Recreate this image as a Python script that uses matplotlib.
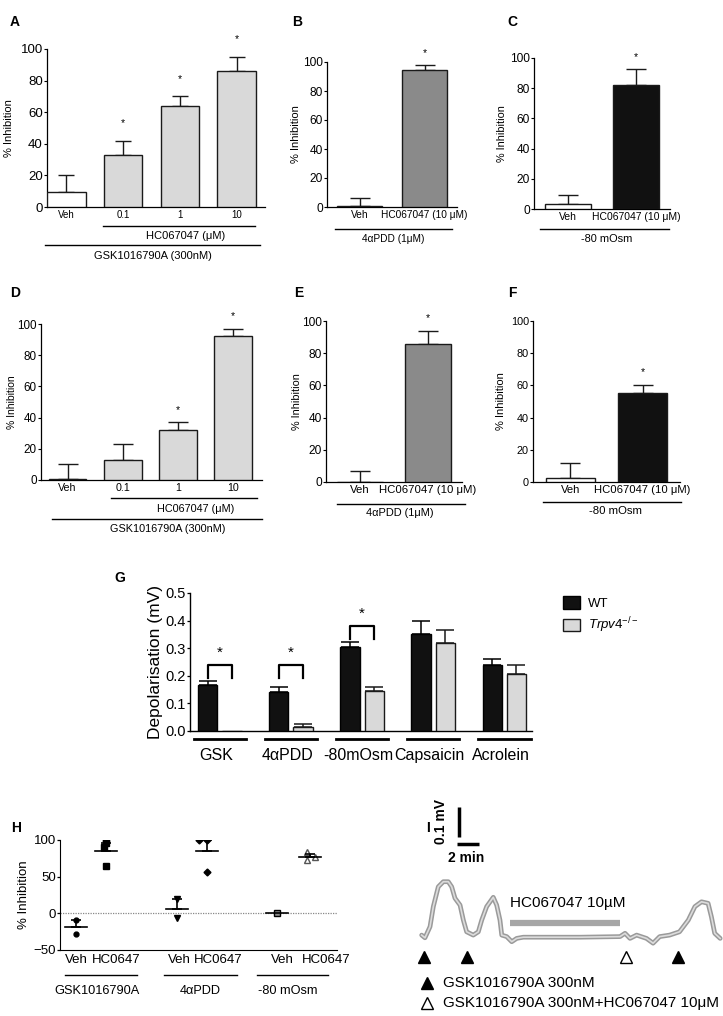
import matplotlib.pyplot as plt
from matplotlib.patches import Patch
import numpy as np

plt.rcParams['font.family'] = ['Liberation Sans', 'DejaVu Sans']
plt.rcParams['mathtext.fontset'] = 'custom'
plt.rcParams['mathtext.rm'] = 'Liberation Sans'
plt.rcParams['mathtext.it'] = 'Liberation Sans:italic'

W, H = 723, 1016

# ---------------- data ----------------
dose_labels = ['Veh', '0.1', '1', '10']
a_vals = [9.5, 33, 64, 86]
a_err = [10.5, 9, 6, 9]
a_star = [False, True, True, True]
d_vals = [0.5, 13, 32, 92]
d_err = [9.5, 10, 5, 5]
d_star = [False, False, True, True]

pair_labels = ['Veh', 'HC067047 (10 \u03bcM)']
b_vals = [0.8, 94.5]
b_err = [5.2, 3.5]
c_vals = [3, 82]
c_err = [6.5, 10.5]
e_vals = [0.3, 86]
e_err = [6.7, 8]
f_vals = [2.5, 55]
f_err = [9.5, 5]
pair_star = [False, True]

hc_dose_text = 'HC067047 (\u03bcM)'
gsk_text = 'GSK1016790A (300nM)'
pdd_text = '4\u03b1PDD (1\u03bcM)'
osm_text = '-80 mOsm'

g_groups = ['GSK', '4\u03b1PDD', '-80mOsm', 'Capsaicin', 'Acrolein']
g_wt = [0.165, 0.14, 0.305, 0.35, 0.238]
g_wt_err = [0.015, 0.018, 0.017, 0.047, 0.022]
g_ko = [0.0, 0.015, 0.145, 0.32, 0.208]
g_ko_err = [0.0, 0.01, 0.015, 0.047, 0.032]
g_sig = [True, True, True, False, False]

h_groups = ['GSK1016790A', '4\u03b1PDD', '-80 mOsm']
h_ticks = ['Veh', 'HC0647'] * 3
h_pts = [[-9, -28], [100, 96, 90, 65], [20, -7], [100, 100, 56], [0], [83, 77, 73]]
h_mean = [-19, 85.5, 6, 85.5, 0, 77.5]
h_err = [10, 10, 14, 14.5, 0, 4]

# trace of panel I (minutes, mV)
i_t = [1.06, 1.36, 1.82, 2.12, 2.57, 3.03, 3.48, 3.79, 4.09, 4.55, 4.85, 5.15,
       5.75, 6.21, 6.52, 6.97, 7.57, 7.88, 8.18, 8.34, 8.79, 9.25, 9.70, 10.3,
       12.43, 15.45, 19.09, 19.55, 20.0, 20.6, 21.5, 22.1, 22.7, 23.6, 24.5,
       25.3, 25.9, 26.5, 27.1, 27.4, 27.7, 28.2]
i_mv = [0.003, -0.006, 0.031, 0.098, 0.164, 0.181, 0.181, 0.164, 0.126, 0.103,
        0.053, 0.014, 0.003, 0.014, 0.053, 0.098, 0.129, 0.103, 0.053, 0.003,
        -0.002, -0.019, -0.008, -0.004, -0.004, -0.004, -0.002, 0.009, -0.008,
        0.003, -0.008, -0.024, -0.002, 0.003, 0.014, 0.053, 0.098, 0.114, 0.109,
        0.064, 0.009, -0.008]
i_gsk = [1.27, 5.18, 24.4]
i_gsk_hc = [19.6]
i_hc_on, i_hc_off = 9.1, 19.1

fig = plt.figure(figsize=(W / 100, H / 100), dpi=100)


def px_axes(l, r, top, bot):
    return fig.add_axes([l / W, 1 - bot / H, (r - l) / W, (bot - top) / H])


def bar_panel(box, xlim, vals, errs, colors, stars, labels, fs_y, fs_xt, fs_txt, fs_yl,
              ylpad, lines, texts, cap=7.5, star_off=8):
    ax = px_axes(*box)
    x = np.arange(len(vals))
    ax.bar(x, vals, 0.68, color=colors, edgecolor='#1a1a1a', lw=1.0, zorder=3)
    ax.errorbar(x, vals, yerr=[[0] * len(vals), errs], fmt='none', ecolor='#1a1a1a',
                elinewidth=1.0, capsize=cap, capthick=1.0, zorder=2)
    for xi, v, e, s in zip(x, vals, errs, stars):
        if s:
            ax.text(xi, v + e + star_off, '*', ha='center', va='center', fontsize=7.5)
    ax.set_xlim(*xlim)
    ax.set_ylim(0, 100)
    ax.set_yticks(range(0, 101, 20))
    ax.set_xticks(x, labels)
    ax.tick_params(axis='x', length=0, labelsize=fs_xt, pad=2)
    ax.tick_params(axis='y', length=2.5, width=0.8, labelsize=fs_y, pad=0.5)
    for s in ['top', 'right']:
        ax.spines[s].set_visible(False)
    for s in ['left', 'bottom']:
        ax.spines[s].set_linewidth(0.9)
    ax.set_ylabel('% Inhibition', fontsize=fs_yl, labelpad=ylpad)
    tr = ax.get_xaxis_transform()
    for x0, x1, y in lines:
        ax.plot([x0, x1], [y, y], color='k', lw=1, transform=tr, clip_on=False)
    for xc, y, t in texts:
        ax.text(xc, y, t, transform=tr, ha='center', va='center', fontsize=fs_txt)
    return ax


light = '#d9d9d9'
mid = '#8a8a8a'
dark = '#111111'

# A
bar_panel((47, 265, 49, 207), (-0.34, 3.5), a_vals, a_err, ['white'] + [light] * 3,
          a_star, dose_labels, 9.5, 7, 8, 8, 4.6,
          [(0.65, 3.32, -0.12), (-0.37, 3.42, -0.24)],
          [(2.1, -0.185, hc_dose_text), (1.53, -0.31, gsk_text)], cap=6, star_off=11)
# B
bar_panel((327, 457, 62, 207), (-0.5, 1.5), b_vals, b_err, ['white', mid],
          pair_star, pair_labels, 8.6, 7.3, 7.3, 8, 1.7,
          [(-0.38, 1.42, -0.152)], [(0.52, -0.22, pdd_text)])
# C
bar_panel((534, 670, 58, 209), (-0.5, 1.5), c_vals, c_err, ['white', dark],
          pair_star, pair_labels, 8.6, 7.5, 7.9, 7.8, 2,
          [(-0.41, 1.49, -0.132)], [(0.57, -0.2, osm_text)])
# D
bar_panel((41, 262, 324, 480), (-0.48, 3.52), d_vals, d_err, ['white'] + [light] * 3,
          d_star, dose_labels, 8.4, 7.7, 7.8, 7.5, 0.5,
          [(0.78, 3.43, -0.115), (-0.28, 3.52, -0.25)],
          [(2.31, -0.186, hc_dose_text), (1.82, -0.314, gsk_text)])
# E
bar_panel((326, 462, 321, 482), (-0.5, 1.5), e_vals, e_err, ['white', mid],
          pair_star, pair_labels, 8.6, 8.2, 7.9, 7.8, 0.3,
          [(-0.34, 1.54, -0.137)], [(0.59, -0.193, pdd_text)])
# F
bar_panel((533, 680, 321, 482), (-0.52, 1.52), f_vals, f_err, ['white', dark],
          pair_star, pair_labels, 7.8, 8.1, 8.2, 8, 3.5,
          [(-0.38, 1.54, -0.124)], [(0.62, -0.18, osm_text)])

# G
axg = px_axes(190, 532, 593, 731)
gx = np.arange(len(g_groups))
off, bw = 0.17, 0.27
axg.bar(gx - off, g_wt, bw, color=dark, edgecolor='k', lw=1, zorder=3)
axg.bar(gx + off, g_ko, bw, color=light, edgecolor='#1a1a1a', lw=1, zorder=3)
for xi, v, e in zip(gx - off, g_wt, g_wt_err):
    axg.errorbar(xi, v, yerr=[[0], [e]], fmt='none', ecolor='k', elinewidth=1.1,
                 capsize=6.5, capthick=1.1, zorder=2)
for xi, v, e in zip(gx + off, g_ko, g_ko_err):
    if e > 0:
        axg.errorbar(xi, v, yerr=[[0], [e]], fmt='none', ecolor='#1a1a1a', elinewidth=1.1,
                     capsize=6.5, capthick=1.1, zorder=2)
for xi, s, v, e in zip(gx, g_sig, g_wt, g_wt_err):
    if s:
        top = max(v + e, 0.18) + 0.058
        axg.plot([xi - off, xi - off, xi + off, xi + off], [top - 0.045, top, top, top - 0.045],
                 color='k', lw=1.6)
        axg.text(xi, top + 0.045, '*', ha='center', va='center', fontsize=11)
axg.set_xlim(-0.42, 4.39)
axg.set_ylim(0, 0.5)
axg.set_yticks(np.arange(0, 0.51, 0.1))
axg.set_yticklabels(['%.1f' % v for v in np.arange(0, 0.51, 0.1)])
axg.set_xticks([])
axg.tick_params(axis='y', length=2.5, width=0.9, labelsize=10.5, pad=0.5)
for s in ['top', 'right']:
    axg.spines[s].set_visible(False)
for s in ['left', 'bottom']:
    axg.spines[s].set_linewidth(1)
axg.set_ylabel('Depolarisation (mV)', fontsize=12.5, labelpad=2)
trg = axg.get_xaxis_transform()
for xi, name in zip(gx, g_groups):
    axg.plot([xi - 0.37, xi + 0.37], [-0.058, -0.058], color='k', lw=2, transform=trg,
             clip_on=False)
    axg.text(xi - 0.05, -0.175, name, transform=trg, ha='center', va='center', fontsize=11.5)
fig.legend(handles=[Patch(facecolor=dark, edgecolor='k'),
                    Patch(facecolor=light, edgecolor='#1a1a1a')],
           labels=['WT', r'$\it{Trpv4}^{-/-}$'], loc='upper left',
           bbox_to_anchor=(551 / W, 1 - 584 / H), frameon=False, fontsize=9.5,
           handlelength=1.3, handleheight=1.1, labelspacing=0.45, handletextpad=0.6)

# H
axh = px_axes(60, 337, 840, 950)
hx = [0, 1, 3.37, 4.37, 6.7, 7.8]
h_jit = [[0, 0], [0, 0, -0.05, 0], [0, 0], [-0.27, 0, 0], [0], [-0.1, 0.17, -0.1]]
h_lab_off = [0, 0.35, 0.07, 0.38, 0.17, 0.53]
markers = ['o', 's', 'v', 'D', 's', '^']
mfc = ['k', 'k', 'k', 'k', '#8a8a8a', 'white']
mec = ['k', 'k', 'k', 'k', 'k', '#555555']
msz = [3.5, 4, 4, 3.5, 5, 5]
axh.axhline(0, color='#888888', lw=0.9, ls=(0, (1, 1)), zorder=1)
for i in range(6):
    pts = h_pts[i]
    axh.plot(np.array(h_jit[i]) + hx[i], pts, ls='none', marker=markers[i], ms=msz[i],
             mfc=mfc[i], mec=mec[i], mew=1, zorder=3)
    axh.plot([hx[i] - 0.37, hx[i] + 0.37], [h_mean[i], h_mean[i]], color='k', lw=1.2, zorder=4)
    if h_err[i] > 0:
        axh.errorbar(hx[i], h_mean[i], yerr=[[0], [h_err[i]]], fmt='none', ecolor='k',
                     elinewidth=1.2, capsize=3.6, capthick=1.2, zorder=4)
axh.set_xlim(-0.53, 8.7)
axh.set_ylim(-50, 100)
axh.set_yticks([-50, 0, 50, 100])
axh.set_xticks([x + o for x, o in zip(hx, h_lab_off)], h_ticks)
axh.tick_params(axis='x', length=0, labelsize=9.5, pad=3)
axh.tick_params(axis='y', length=2.5, width=0.9, labelsize=9.5, pad=0.5)
for s in ['top', 'right']:
    axh.spines[s].set_visible(False)
axh.set_ylabel('% Inhibition', fontsize=9.5, labelpad=2.3)
trh = axh.get_xaxis_transform()
for (x0, x1), xc, name in zip([(-0.37, 2.03), (2.93, 5.37), (6.03, 8.4)], [0.7, 4.13, 7.05],
                              h_groups):
    axh.plot([x0, x1], [-0.227, -0.227], color='k', lw=1, transform=trh, clip_on=False)
    axh.text(xc, -0.375, name, transform=trh, ha='center', va='center', fontsize=9.2)

# I
axi = px_axes(410, 723, 790, 1016)
axi.set_xlim(0, 313 / 11)
axi.set_ylim((936 - 1016) / 300, (936 - 790) / 300)
axi.axis('off')
axi.plot(i_t, i_mv, color='#9a9a9a', lw=3.4, solid_joinstyle='round', solid_capstyle='round')
axi.plot(i_t, i_mv, color='#dcdcdc', lw=1.2, solid_joinstyle='round')
axi.plot([i_hc_on, i_hc_off], [0.043, 0.043], color='#a6a6a6', lw=4.5, solid_capstyle='butt')
axi.text(i_hc_on, 0.088, 'HC067047 10\u00b5M', ha='left', va='bottom', fontsize=11)
axi.plot(i_gsk, [-0.07] * len(i_gsk), ls='none', marker='^', color='k', ms=9)
axi.plot(i_gsk_hc, [-0.07] * len(i_gsk_hc), ls='none', marker='^', mfc='white', mec='k',
         mew=1, ms=9)
axi.plot([1.55], [-0.157], marker='^', color='k', ms=9)
axi.text(3.0, -0.157, 'GSK1016790A 300nM', va='center', fontsize=11)
axi.plot([1.55], [-0.223], marker='^', mfc='white', mec='k', mew=1, ms=9)
axi.text(3.0, -0.223, 'GSK1016790A 300nM+HC067047 10\u03bcM', va='center', fontsize=11)
axi.plot([4.27, 6.27], [0.307, 0.307], color='k', lw=2.5, solid_capstyle='butt')
axi.plot([4.45, 4.45], [0.33, 0.43], color='k', lw=2.5, solid_capstyle='butt')
axi.text(2.8, 0.38, '0.1 mV', rotation=90, ha='center', va='center', fontsize=10,
         fontweight='bold')
axi.text(5.1, 0.26, '2 min', ha='center', va='center', fontsize=10, fontweight='bold')

# panel letters
for lab, x, y in [('A', 15, 22), ('B', 297, 22), ('C', 512, 22), ('D', 15, 293),
                  ('E', 299, 293), ('F', 512, 293), ('G', 120, 578), ('H', 16, 828),
                  ('I', 428, 828)]:
    fig.text(x / W, 1 - y / H, lab, fontsize=10, fontweight='bold', ha='center', va='center')

fig.savefig('out.png', dpi=100)
